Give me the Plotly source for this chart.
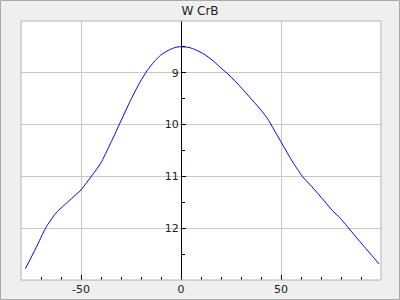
import plotly.graph_objects as go

phase = [-77.8, -72.5, -67.6, -62.6, -58.5, -54.8, -50.0, -44.3, -40.2, -35.2, -31.0,
         -25.2, -20.5, -16.8, -13.5, -10.2, -7.0, -4.3, -1.5, 1.5, 4.0, 7.5, 11.5, 15.5,
         19.8, 24.5, 29.0, 35.7, 40.0, 43.2, 46.5, 49.8, 52.3, 56.0, 60.7, 64.5, 68.2, 72.0,
         75.7, 79.5, 83.2, 87.5, 91.5, 95.5, 99.0]
mag = [12.78, 12.38, 11.99, 11.71, 11.56, 11.43, 11.26, 10.97, 10.75, 10.36, 10.01,
       9.53, 9.18, 8.95, 8.79, 8.66, 8.58, 8.53, 8.50, 8.50, 8.51, 8.56, 8.64, 8.75,
       8.90, 9.06, 9.24, 9.53, 9.72, 9.88, 10.10, 10.32, 10.49, 10.73, 11.00, 11.16, 11.32, 11.49,
       11.66, 11.80, 11.97, 12.17, 12.35, 12.53, 12.69]

title_text = "W CrB"
x_range = [-80, 100]
y_range = [13, 8]
x_ticks = [-50, 0, 50]
x_labels = ["-50", "0", "50"]
y_ticks = [9, 10, 11, 12]
y_labels = ["9", "10", "11", "12"]

L, R, T, B = 21, 19, 21, 20
W, H = 400, 300
pw, ph = W - L - R, H - T - B

fig = go.Figure()
fig.add_trace(go.Scatter(x=phase, y=mag, mode="lines",
                         line=dict(color="#0000ff", width=1, shape="spline", smoothing=0.6),
                         showlegend=False, hoverinfo="skip"))

font = dict(family="DejaVu Sans", size=11, color="#222222")

fig.update_layout(
    width=W, height=H,
    margin=dict(l=L, r=R, t=T, b=B, autoexpand=False),
    paper_bgcolor="#efefef", plot_bgcolor="#ffffff",
    title=dict(text=title_text, x=0.5, xanchor="center", y=1 - 11 / H, yanchor="middle",
               font=dict(family="DejaVu Sans", size=12, color="#222222")),
    font=font,
    xaxis=dict(range=x_range, tickmode="array", tickvals=x_ticks, ticktext=x_labels,
               showgrid=True, gridcolor="#c8c8c8", automargin=False,
               gridwidth=1, zeroline=False, showline=False,
               ticks="inside", ticklen=5, tickcolor="#000000", tickwidth=1,
               minor=dict(ticks="inside", tickmode="linear", tick0=0, dtick=10, ticklen=3,
                          tickcolor="#000000", showgrid=False),
               tickfont=font, ticklabelstandoff=1),
    yaxis=dict(range=y_range, tickmode="array", tickvals=y_ticks, ticktext=y_labels,
               showgrid=True, gridcolor="#c8c8c8", automargin=False,
               gridwidth=1, zeroline=False, showline=True, linecolor="#000000",
               linewidth=1, anchor="free", position=(0 - x_range[0]) / (x_range[1] - x_range[0]),
               side="left", ticks="inside", ticklen=4, tickcolor="#000000", tickwidth=1,
               minor=dict(ticks="inside", tickmode="linear", tick0=0, dtick=0.5, ticklen=3,
                          tickcolor="#000000", showgrid=False),
               tickfont=font),
    shapes=[
        dict(type="rect", xref="paper", yref="paper", x0=0, x1=1, y0=0, y1=1,
             line=dict(color="#b4b4b4", width=1), layer="above"),
        dict(type="rect", xref="paper", yref="paper",
             x0=-(L - 0.5) / pw, x1=1 + (R - 0.5) / pw,
             y0=-(B - 0.5) / ph, y1=1 + (T - 0.5) / ph,
             line=dict(color="#aaaaaa", width=1), layer="above"),
    ],
)

fig.write_html("out.html")
